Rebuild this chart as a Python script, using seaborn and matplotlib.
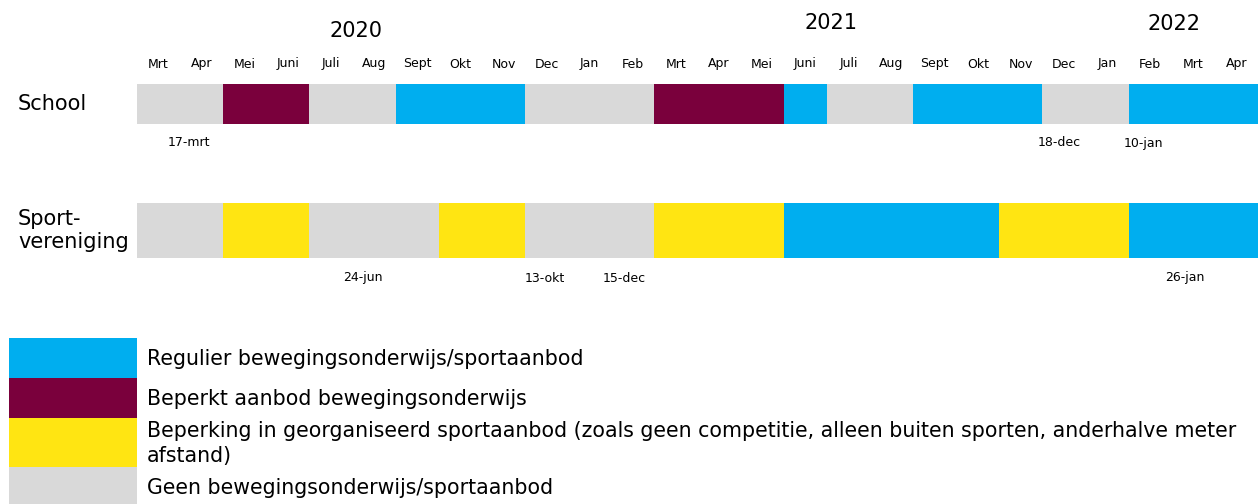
import matplotlib
matplotlib.use("Agg")
import matplotlib.pyplot as plt
import seaborn as sns
import pandas as pd

# ---------------- data ----------------
months = ["Mrt", "Apr", "Mei", "Juni", "Juli", "Aug", "Sept", "Okt", "Nov", "Dec", "Jan", "Feb",
          "Mrt", "Apr", "Mei", "Juni", "Juli", "Aug", "Sept", "Okt", "Nov", "Dec", "Jan", "Feb",
          "Mrt", "Apr"]
years = ["2020", "2021", "2022"]
year_pos = [5.08, 16.1, 24.05]          # in month units

categories = ["Regulier", "Beperkt", "Beperking", "Geen"]
legend_labels = [
    "Regulier bewegingsonderwijs/sportaanbod",
    "Beperkt aanbod bewegingsonderwijs",
    "Beperking in georganiseerd sportaanbod (zoals geen competitie, alleen buiten sporten, anderhalve meter\nafstand)",
    "Geen bewegingsonderwijs/sportaanbod",
]

# segments: start month index, end month index, category
school_start = [0, 2, 4, 6, 9, 12, 15, 16, 18, 21, 23]
school_end   = [2, 4, 6, 9, 12, 15, 16, 18, 21, 23, 26]
school_cat   = ["Geen", "Beperkt", "Geen", "Regulier", "Geen", "Beperkt", "Regulier", "Geen",
                "Regulier", "Geen", "Regulier"]

sport_start = [0, 2, 4, 7, 9, 12, 15, 20, 23]
sport_end   = [2, 4, 7, 9, 12, 15, 20, 23, 26]
sport_cat   = ["Geen", "Beperking", "Geen", "Beperking", "Geen", "Beperking", "Regulier",
               "Beperking", "Regulier"]

school_dates = ["17-mrt", "18-dec", "10-jan"]
school_date_pos = [1.2, 21.4, 23.35]
sport_dates = ["24-jun", "13-okt", "15-dec", "26-jan"]
sport_date_pos = [5.25, 9.45, 11.3, 24.3]

# ---------------- style ----------------
palette = {"Regulier": "#00AEEF", "Beperkt": "#7A003C", "Beperking": "#FFE512", "Geen": "#D9D9D9"}
sns.set_theme(style="white")
plt.rcParams["font.family"] = ["DejaVu Sans"]
plt.rcParams["text.color"] = "black"

W, H = 1258, 504
fig = plt.figure(figsize=(W / 100, H / 100), dpi=100)

def px_ax(left, top, width, height):
    return fig.add_axes([left / W, 1 - (top + height) / H, width / W, height / H])

# main timeline axes (x in months, y in pixel rows)
ax = px_ax(137, 0, 1121, 504)
ax.set_xlim(0, 26)
ax.set_ylim(504, 0)
ax.axis("off")

rows = {"School": (104, 40), "Sport": (230.5, 55)}

school = pd.DataFrame({"start": school_start, "end": school_end, "cat": school_cat})
sport = pd.DataFrame({"start": sport_start, "end": sport_end, "cat": sport_cat})
for df, key in [(school, "School"), (sport, "Sport")]:
    yc, h = rows[key]
    ax.barh([yc] * len(df), df["end"] - df["start"], left=df["start"], height=h,
            color=[palette[c] for c in df["cat"]], linewidth=0)

for i, m in enumerate(months):
    ax.text(i + 0.5, 64, m, ha="center", va="center", fontsize=9)
for y, p, ypx in zip(years, year_pos, [31, 23, 24]):
    ax.text(p, ypx, y, ha="center", va="center", fontsize=15)
for d, p in zip(school_dates, school_date_pos):
    ax.text(p, 143, d, ha="center", va="center", fontsize=9)
for d, p in zip(sport_dates, sport_date_pos):
    ax.text(p, 278, d, ha="center", va="center", fontsize=9)

fig.text(18 / W, 1 - 104 / H, "School", ha="left", va="center", fontsize=15)
fig.text(18 / W, 1 - 230.5 / H, "Sport-\nvereniging", ha="left", va="center", fontsize=15,
         linespacing=1.2)

# legend axes
lax = px_ax(9, 338, 128, 166)
lax.set_xlim(0, 1)
lax.set_ylim(166, 0)
lax.axis("off")
leg_h = [40, 40, 49, 40]
bottoms = [sum(leg_h[:i]) for i in range(len(leg_h))]
lax.barh([b + h / 2 for b, h in zip(bottoms, leg_h)], [1] * 4, height=leg_h,
         color=[palette[c] for c in categories], linewidth=0, clip_on=False)
for b, h, lab in zip(bottoms, leg_h, legend_labels):
    lax.text(1.078, b + h / 2 + 1, lab, ha="left", va="center", fontsize=14.8, linespacing=1.3,
             clip_on=False)

fig.savefig("out.png", dpi=100)
